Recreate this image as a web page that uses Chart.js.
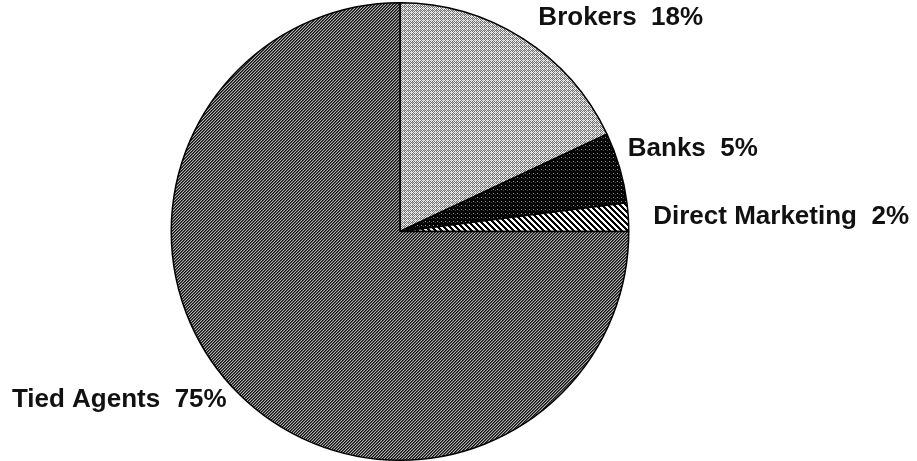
<!DOCTYPE html>
<html>
<head>
<meta charset="utf-8">
<script src="https://cdn.jsdelivr.net/npm/chart.js@4.4.1/dist/chart.umd.min.js"></script>
<style>
  html, body { margin: 0; padding: 0; background: #fff; }
  #wrap { width: 917px; height: 461px; }
</style>
</head>
<body>
<div id="wrap"><canvas id="pie" width="917" height="461"></canvas></div>
<script>
const categories = ['Brokers', 'Banks', 'Direct Marketing', 'Tied Agents'];
const shares = [18, 5, 2, 75];

// small shifts so the labels sit where the original put them
const labelNudge = [[4, -2], [-13, -13], [3, 1], [4, -9]];

// little tiles that imitate the print screens
function tile(size, paint){
  const c = document.createElement('canvas');
  c.width = size; c.height = size;
  const g = c.getContext('2d');
  for (let y = 0; y < size; y++){
    for (let x = 0; x < size; x++){
      g.fillStyle = paint(x, y);
      g.fillRect(x, y, 1, 1);
    }
  }
  return g.createPattern(c, 'repeat');
}

const ctx = document.getElementById('pie').getContext('2d');

const brokersFill = tile(4, (x, y) => {
  if ((x + y) % 2 === 0) return (x === 0 && y === 2) ? '#b0b0b0' : '#eeeeee';
  return (x === 3 && y === 0) ? '#c4c4c4' : '#707070';
});
const banksFill = tile(4, (x, y) => {
  if (x === 1 && y === 1) return '#9a9a9a';
  if (x === 3 && y === 2) return '#444';
  return '#050505';
});
const directFill = tile(6, (x, y) => (((x - y) % 6 + 6) % 6 < 3) ? '#000' : '#fff');
const tiedFill = tile(3, (x, y) => {
  const k = (x + y) % 3;
  return k === 0 ? '#141414' : (k === 1 ? '#4c4c4c' : '#b0b0b0');
});

const pieLabels = {
  id: 'pieLabels',
  afterDatasetsDraw(chart){
    const c = chart.ctx;
    const arcs = chart.getDatasetMeta(0).data;
    c.save();
    c.font = 'bold 26px "Liberation Sans", Arial, sans-serif';
    c.fillStyle = '#111';
    c.textBaseline = 'middle';
    arcs.forEach((arc, i) => {
      const p = arc.getProps(['x', 'y', 'startAngle', 'endAngle', 'outerRadius'], true);
      const mid = (p.startAngle + p.endAngle) / 2;
      const r = p.outerRadius + 22;
      const tx = p.x + Math.cos(mid) * r + labelNudge[i][0];
      const ty = p.y + Math.sin(mid) * r + labelNudge[i][1];
      c.textAlign = Math.cos(mid) >= 0 ? 'left' : 'right';
      c.fillText(categories[i] + '  ' + shares[i] + '%', tx, ty);
    });
    c.restore();
  }
};

new Chart(ctx, {
  type: 'pie',
  data: {
    labels: categories,
    datasets: [{
      data: shares,
      backgroundColor: [brokersFill, banksFill, directFill, tiedFill],
      borderColor: '#000',
      borderWidth: 1.5,
      hoverOffset: 0,
      offset: 0
    }]
  },
  options: {
    responsive: false,
    animation: false,
    devicePixelRatio: 1,
    layout: { padding: { top: 2, bottom: 0, left: 0, right: 117 } },
    plugins: {
      legend: { display: false },
      tooltip: { enabled: false }
    }
  },
  plugins: [pieLabels]
});
</script>
</body>
</html>
